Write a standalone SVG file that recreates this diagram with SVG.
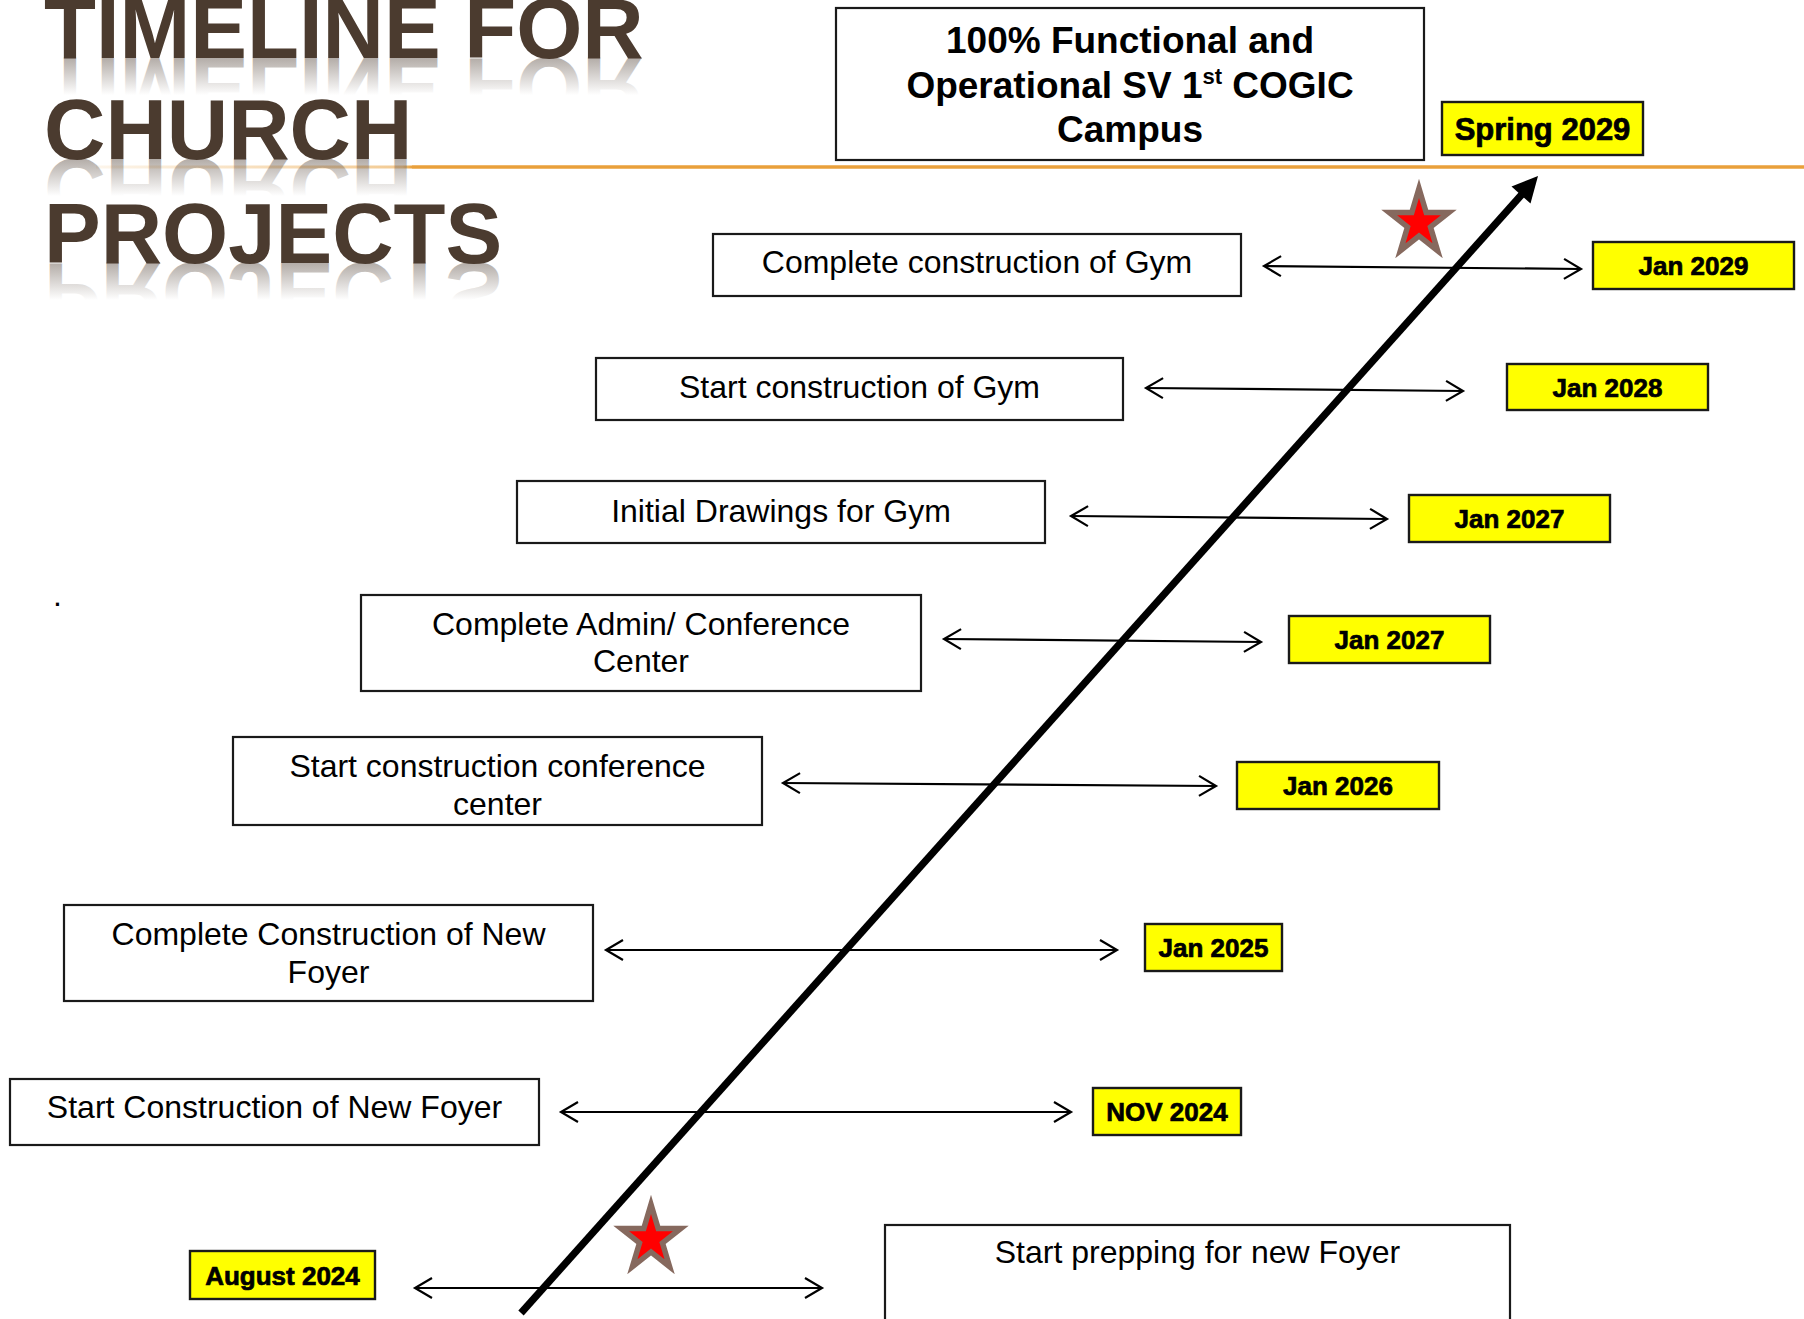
<svg xmlns="http://www.w3.org/2000/svg" width="1804" height="1319" viewBox="0 0 1804 1319">
<style>
  .title { font-family: "Liberation Sans", Arial, sans-serif; font-weight: bold; font-size: 85px; fill: #4B3B2F; }
  .refl { font-family: "Liberation Sans", Arial, sans-serif; font-weight: bold; font-size: 85px; fill: url(#reflGrad); }
  .box { fill: #FFFFFF; stroke: #1A1A1A; stroke-width: 2.2; }
  .date { fill: #FFFF00; stroke: #1A1A1A; stroke-width: 2.4; }
  .lbl { font-family: "Liberation Sans", Arial, sans-serif; font-size: 32px; fill: #000; text-anchor: middle; }
  .goal { font-family: "Liberation Sans", Arial, sans-serif; font-weight: bold; font-size: 37px; fill: #000; text-anchor: middle; }
  .dtxt { font-family: "Liberation Sans", Arial, sans-serif; font-weight: bold; font-size: 26px; fill: #000; text-anchor: middle; stroke: #000; stroke-width: 0.7; }
  .dbig { font-size: 31px; }
  .conn { stroke: #000; stroke-width: 2.2; fill: none; marker-start: url(#chev); marker-end: url(#chev); }
  .star { fill: #FF0000; stroke: #86695E; stroke-width: 11; stroke-linejoin: miter; stroke-miterlimit: 10; paint-order: stroke; }
</style>
<defs>
  <linearGradient id="reflGrad" x1="0" y1="0" x2="0" y2="1">
    <stop offset="0" stop-color="#4B3B2F" stop-opacity="0"/>
    <stop offset="0.42" stop-color="#4B3B2F" stop-opacity="0"/>
    <stop offset="0.81" stop-color="#4B3B2F" stop-opacity="0.42"/>
    <stop offset="1" stop-color="#4B3B2F" stop-opacity="0.42"/>
  </linearGradient>
  <linearGradient id="lineGrad" gradientUnits="userSpaceOnUse" x1="96" y1="0" x2="412" y2="0">
    <stop offset="0" stop-color="#E9A03B" stop-opacity="0.1"/>
    <stop offset="0.97" stop-color="#E9A03B" stop-opacity="0.55"/>
    <stop offset="1" stop-color="#E9A03B" stop-opacity="1"/>
  </linearGradient>
  <marker id="chev" viewBox="-20 -12 24 24" refX="0" refY="0" markerWidth="24" markerHeight="24" markerUnits="userSpaceOnUse" orient="auto-start-reverse">
    <path d="M-17,-10 L0,0 L-17,10" fill="none" stroke="#000" stroke-width="2.2"/>
  </marker>
  <polygon id="starShape" points="0,-25 5.16,-7.73 21.88,-7.73 8.35,2.95 13.51,20.23 0,9.55 -13.51,20.23 -8.35,2.95 -21.88,-7.73 -5.16,-7.73"/>
</defs>

<rect x="0" y="0" width="1804" height="1319" fill="#FFFFFF"/>

<!-- Title with reflection -->
<g id="title">
  <line x1="96" y1="167" x2="1804" y2="167" stroke="url(#lineGrad)" stroke-width="3"/>
  <line x1="412" y1="167" x2="1804" y2="167" stroke="#E9A03B" stroke-width="3"/>
  <text class="refl" x="44" y="58" transform="translate(0,116) scale(1,-1)" aria-hidden="true">TIMELINE FOR</text>
  <text class="refl" x="44" y="159" transform="translate(0,318) scale(1,-1)" aria-hidden="true">CHURCH</text>
  <text class="refl" x="44" y="263" transform="translate(0,526) scale(1,-1)" aria-hidden="true">PROJECTS</text>
  <text class="title" x="44" y="58">TIMELINE FOR</text>
  <text class="title" x="44" y="159">CHURCH</text>
  <text class="title" x="44" y="263">PROJECTS</text>
</g>

<text x="53" y="606" font-family="Liberation Sans, Arial, sans-serif" font-size="32" fill="#000">.</text>

<!-- Connectors -->
<g id="connectors">
  <line class="conn" x1="1264" y1="266" x2="1581" y2="269"/>
  <line class="conn" x1="1146" y1="388" x2="1463" y2="391"/>
  <line class="conn" x1="1071" y1="516" x2="1387" y2="519"/>
  <line class="conn" x1="944" y1="639" x2="1261" y2="642"/>
  <line class="conn" x1="783" y1="783" x2="1216" y2="786"/>
  <line class="conn" x1="606" y1="950" x2="1117" y2="950"/>
  <line class="conn" x1="561" y1="1112" x2="1071" y2="1112"/>
  <line class="conn" x1="415" y1="1288" x2="822" y2="1288"/>
  <g id="timeline-axis">
    <line x1="521" y1="1313" x2="1524" y2="192" stroke="#000" stroke-width="7.2"/>
    <polygon points="1538,176 1530.5,203.5 1511.5,186.5" fill="#000"/>
  </g>
</g>

<!-- Stars -->
<g id="star-top"><use href="#starShape" class="star" transform="translate(1419,223)"/></g>
<g id="star-bottom"><use href="#starShape" class="star" transform="translate(651,1239)"/></g>

<!-- Goal -->
<g id="goal">
  <rect class="box" x="836" y="8" width="588" height="152"/>
  <text class="goal" x="1130" y="53">100% Functional and</text>
  <text class="goal" x="1130" y="98">Operational SV 1<tspan font-size="22" dy="-14">st</tspan><tspan dy="14"> COGIC</tspan></text>
  <text class="goal" x="1130" y="142">Campus</text>
</g>
<g id="date-spring2029">
  <rect class="date" x="1442" y="102" width="201" height="53"/>
  <text class="dtxt dbig" x="1542.5" y="140">Spring 2029</text>
</g>

<!-- Row 1 -->
<g id="task-complete-gym">
  <rect class="box" x="713" y="234" width="528" height="62"/>
  <text class="lbl" x="977" y="273">Complete construction of Gym</text>
</g>
<g id="date-jan2029">
  <rect class="date" x="1593" y="242" width="201" height="47"/>
  <text class="dtxt" x="1693.5" y="275">Jan 2029</text>
</g>

<!-- Row 2 -->
<g id="task-start-gym">
  <rect class="box" x="596" y="358" width="527" height="62"/>
  <text class="lbl" x="859.5" y="398">Start construction of Gym</text>
</g>
<g id="date-jan2028">
  <rect class="date" x="1507" y="364" width="201" height="46"/>
  <text class="dtxt" x="1607.5" y="397">Jan 2028</text>
</g>

<!-- Row 3 -->
<g id="task-drawings-gym">
  <rect class="box" x="517" y="481" width="528" height="62"/>
  <text class="lbl" x="781" y="522">Initial Drawings for Gym</text>
</g>
<g id="date-jan2027a">
  <rect class="date" x="1409" y="495" width="201" height="47"/>
  <text class="dtxt" x="1509.5" y="528">Jan 2027</text>
</g>

<!-- Row 4 -->
<g id="task-complete-admin">
  <rect class="box" x="361" y="595" width="560" height="96"/>
  <text class="lbl" x="641" y="635">Complete Admin/ Conference</text>
  <text class="lbl" x="641" y="672">Center</text>
</g>
<g id="date-jan2027b">
  <rect class="date" x="1289" y="616" width="201" height="47"/>
  <text class="dtxt" x="1389.5" y="649">Jan 2027</text>
</g>

<!-- Row 5 -->
<g id="task-start-conference">
  <rect class="box" x="233" y="737" width="529" height="88"/>
  <text class="lbl" x="497.5" y="777">Start construction conference</text>
  <text class="lbl" x="497.5" y="815">center</text>
</g>
<g id="date-jan2026">
  <rect class="date" x="1237" y="762" width="202" height="47"/>
  <text class="dtxt" x="1338" y="795">Jan 2026</text>
</g>

<!-- Row 6 -->
<g id="task-complete-foyer">
  <rect class="box" x="64" y="905" width="529" height="96"/>
  <text class="lbl" x="328.5" y="945">Complete Construction of New</text>
  <text class="lbl" x="328.5" y="983">Foyer</text>
</g>
<g id="date-jan2025">
  <rect class="date" x="1145" y="924" width="137" height="47"/>
  <text class="dtxt" x="1213.5" y="957">Jan 2025</text>
</g>

<!-- Row 7 -->
<g id="task-start-foyer">
  <rect class="box" x="10" y="1079" width="529" height="66"/>
  <text class="lbl" x="274.5" y="1118">Start Construction of New Foyer</text>
</g>
<g id="date-nov2024">
  <rect class="date" x="1093" y="1088" width="148" height="47"/>
  <text class="dtxt" x="1167" y="1121">NOV 2024</text>
</g>

<!-- Row 8 -->
<g id="date-aug2024">
  <rect class="date" x="190" y="1251" width="185" height="48"/>
  <text class="dtxt" x="282.5" y="1285">August 2024</text>
</g>
<g id="task-prep-foyer">
  <rect class="box" x="885" y="1225" width="625" height="120"/>
  <text class="lbl" x="1197.5" y="1263">Start prepping for new Foyer</text>
</g>
</svg>
